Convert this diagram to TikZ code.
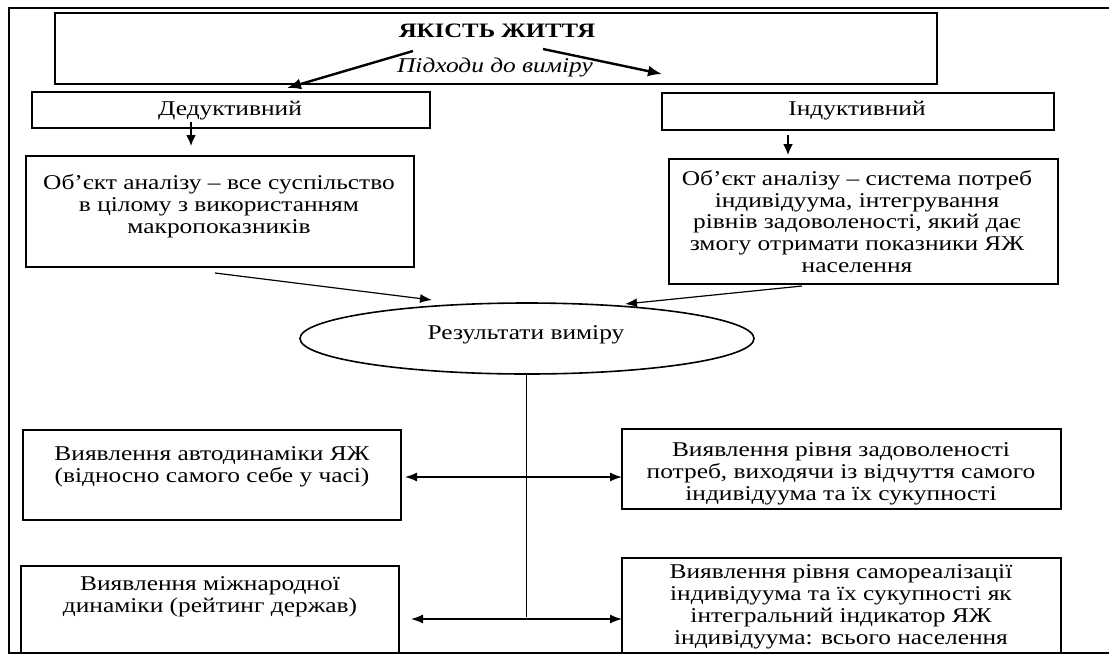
\documentclass[tikz,border=0pt]{standalone}
\usepackage{fontspec}
\setmainfont{Liberation Serif}[FakeStretch=1.21]
\usetikzlibrary{arrows.meta,shapes.geometric}
\begin{document}
\begin{tikzpicture}[x=1pt,y=-1pt,
  boxs/.style={draw, line width=1.7pt, rectangle, inner sep=0pt},
  txt/.style={align=center, inner sep=0pt, font=\fontsize{21}{21.8}\selectfont},
  conn/.style={line width=1.2pt, -{Latex[length=12pt,width=9pt]}},
  dconn/.style={line width=1.3pt, {Latex[length=12pt,width=9pt]}-{Latex[length=12pt,width=9pt]}},
  bigarrow/.style={line width=2.4pt, -{Latex[length=14pt,width=11pt]}},
  midarrow/.style={line width=1.8pt, -{Latex[length=11pt,width=10pt]}},
]
\useasboundingbox (0,0) rectangle (1109,657);
% outer frame
\draw[line width=1.3pt] (1109,8) -- (9,8) -- (9,653) -- (1109,653);

% boxes
\node[boxs, minimum width=882, minimum height=71] (title) at (496,48.5) {};
\node[boxs, minimum width=398, minimum height=36] (ded) at (231,110) {};
\node[boxs, minimum width=392, minimum height=37] (ind) at (858,111.5) {};
\node[boxs, minimum width=388, minimum height=111] (dedobj) at (220,211.5) {};
\node[boxs, minimum width=389, minimum height=125] (indobj) at (863.5,221.5) {};
\node[draw, line width=1.6pt, ellipse, inner sep=0pt, minimum width=454, minimum height=71] (res) at (527,338.5) {};
\node[boxs, minimum width=378, minimum height=90] (A) at (212,475) {};
\node[boxs, minimum width=439, minimum height=80] (D) at (841.5,469) {};
\node[boxs, minimum width=378, minimum height=87] (B) at (210,609.5) {};
\node[boxs, minimum width=439, minimum height=95] (C) at (841.5,605.5) {};

% texts
\node[txt, font=\fontsize{20.5}{21.8}\selectfont\bfseries] (titletxt) at (497,31) {ЯКІСТЬ ЖИТТЯ};
\node[txt, font=\fontsize{21}{21.8}\selectfont\itshape] (subtxt) at (495,67) {Підходи до виміру};
\node[txt] (dedtxt) at (230,111) {Дедуктивний};
\node[txt] (indtxt) at (857,111) {Індуктивний};
\node[txt] (dedobjtxt) at (219,206) {Об’єкт аналізу – все суспільство\\в цілому з використанням\\макропоказників};
\node[txt] (indobjtxt) at (857,221.5) {Об’єкт аналізу – система потреб\\індивідуума, інтегрування\\рівнів задоволеності, який дає\\змогу отримати показники ЯЖ\\населення};
\node[txt] (restxt) at (526,335) {Результати виміру};
\node[txt] (Atxt) at (212,466.5) {Виявлення автодинаміки ЯЖ\\(відносно самого себе у часі)};
\node[txt] (Btxt) at (210,597) {Виявлення міжнародної\\динаміки (рейтинг держав)};
\node[txt] (Dtxt) at (841,474) {Виявлення рівня задоволеності\\потреб, виходячи із відчуття самого\\індивідуума та їх сукупності};
\node[txt] (Ctxt) at (841,607) {Виявлення рівня самореалізації\\індивідуума та їх сукупності як\\інтегральний індикатор ЯЖ\\індивідуума: всього населення};

% connector end points
\coordinate (t1) at (413,51);
\coordinate (t1e) at (287,88);
\coordinate (t2) at (543,49);
\coordinate (t2e) at (662,74);
\coordinate (d1) at (191,122);
\coordinate (d1e) at (191,146);
\coordinate (i1) at (788,135);
\coordinate (i1e) at (788,155);
\coordinate (o1) at (215,273);
\coordinate (o1e) at (432,300);
\coordinate (o2) at (802,286);
\coordinate (o2e) at (625,304);
\coordinate (v1) at (526,617);
\coordinate (a1) at (405,477);
\coordinate (a2) at (622,477);
\coordinate (b1) at (411,619);
\coordinate (b2) at (622,619);

\draw[bigarrow] (t1) -- (t1e);
\draw[bigarrow] (t2) -- (t2e);
\draw[midarrow] (d1) -- (d1e);
\draw[midarrow] (i1) -- (i1e);
\draw[conn] (o1) -- (o1e);
\draw[conn] (o2) -- (o2e);
\draw[line width=0.9pt] (res.south -| v1) -- (v1);
\draw[dconn] (a1) -- (a2);
\draw[dconn] (b1) -- (b2);
\end{tikzpicture}
\end{document}
